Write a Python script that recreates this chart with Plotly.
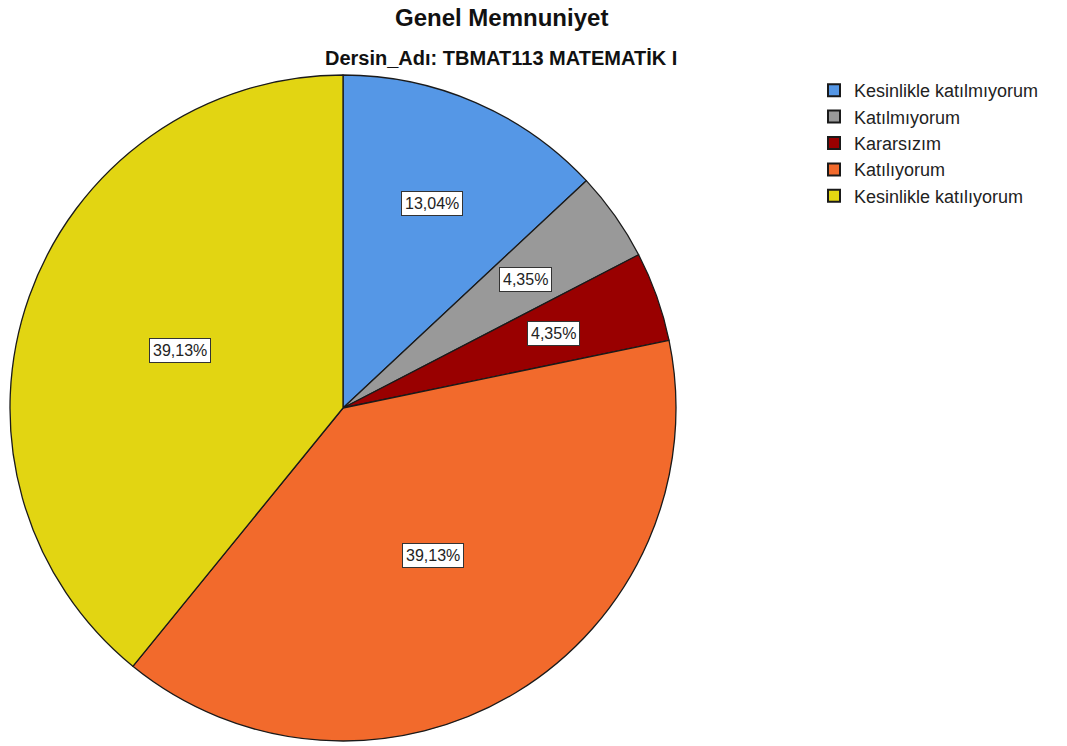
import math
import plotly.graph_objects as go

categories = ["Kesinlikle katılmıyorum", "Katılmıyorum", "Kararsızım", "Katılıyorum", "Kesinlikle katılıyorum"]
percentages = [13.04, 4.35, 4.35, 39.13, 39.13]
colors = ["#5597E6", "#999999", "#990000", "#F26A2C", "#E2D512"]

W, H = 1067, 746
cx_px, cy_px, r_px = 343, 408, 333

fig = go.Figure(go.Pie(
    labels=categories, values=percentages, sort=False, direction="clockwise", rotation=0,
    marker=dict(colors=colors, line=dict(color="#1a1a1a", width=1.3)),
    textinfo="none", hoverinfo="label+percent",
    domain=dict(x=[(cx_px - r_px) / W, (cx_px + r_px) / W],
                y=[1 - (cy_px + r_px) / H, 1 - (cy_px - r_px) / H]),
))

total = sum(percentages)
cum = 0.0
annotations = []
for p in percentages:
    mid = (cum + p / 2) / total * 2 * math.pi
    cum += p
    f = 0.67 if p < 20 else 0.52
    x = (cx_px + r_px * f * math.sin(mid)) / W
    y = 1 - (cy_px - r_px * f * math.cos(mid)) / H
    annotations.append(dict(
        x=x, y=y, xref="paper", yref="paper", showarrow=False,
        xanchor="center", yanchor="middle",
        text=f"{p:.2f}%".replace(".", ","),
        font=dict(family="Liberation Sans, Arial", size=16, color="#222222"),
        bgcolor="white", bordercolor="#333333", borderwidth=1, borderpad=3,
    ))

annotations.append(dict(x=501 / W, y=1 - 17 / H, xref="paper", yref="paper", showarrow=False,
                        xanchor="center", yanchor="middle",
                        text="<b>Genel Memnuniyet</b>",
                        font=dict(family="Liberation Sans, Arial", size=24, color="#111111")))
annotations.append(dict(x=501 / W, y=1 - 58 / H, xref="paper", yref="paper", showarrow=False,
                        xanchor="center", yanchor="middle",
                        text="<b>Dersin_Adı: TBMAT113 MATEMATİK I</b>",
                        font=dict(family="Liberation Sans Narrow, Arial Narrow, Liberation Sans", size=20, color="#111111")))

fig.update_layout(
    width=W, height=H, margin=dict(l=0, r=0, t=0, b=0),
    paper_bgcolor="white", plot_bgcolor="white",
    annotations=annotations,
    showlegend=True,
    legend=dict(x=814 / W, y=1 - 72 / H, xanchor="left", yanchor="top",
                font=dict(family="Liberation Sans, Arial", size=18, color="#222222"),
                traceorder="normal", itemsizing="constant", tracegroupgap=0),
)

fig.write_html("out.html", config={"displayModeBar": False},
               post_script="document.body.style.margin='0';")
